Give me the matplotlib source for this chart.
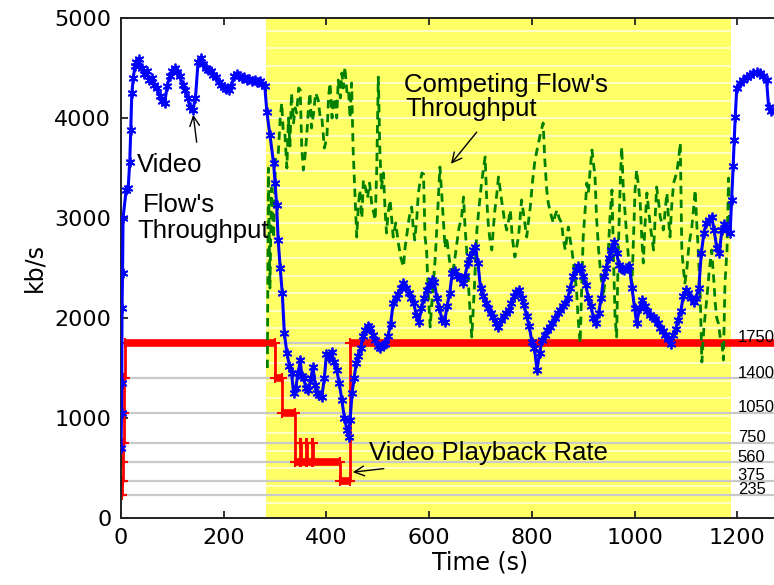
import numpy as np
import matplotlib
matplotlib.use("Agg")
import matplotlib.pyplot as plt

# ---------------------------------------------------------------------------
# Data
# ---------------------------------------------------------------------------
# Video flow throughput (kb/s)
video_t = [0, 1, 1.5, 2, 3, 4, 10, 14, 17, 19, 21, 24, 27,
           30, 35, 40, 45, 50, 55, 60, 65, 70, 75, 80, 85, 90, 95, 100, 105,
           110, 115, 120, 125, 130, 135, 140, 145, 150, 155, 160, 165, 170,
           175, 180, 185, 190, 195, 200, 205, 210, 215, 220, 225, 230, 235,
           240, 245, 250, 255, 260, 265, 270, 275, 280, 284, 290, 297, 300,
           303, 306, 310, 314, 318, 323, 328, 332, 336, 340, 345, 349, 352,
           356, 360, 365, 370, 374, 378, 382, 386, 391, 396, 400, 405, 410,
           415, 420, 425, 430, 435, 440, 443, 446, 450, 454, 458, 462, 467,
           471, 475, 480, 485, 490, 495, 500, 505, 510, 515, 520, 525, 530,
           535, 540, 545, 550, 555, 560, 565, 570, 575, 580, 585, 590, 595,
           600, 605, 610, 615, 620, 625, 630, 635, 640, 645, 650, 655, 660,
           665, 670, 675, 680, 685, 690, 695, 700, 705, 710, 715, 720, 725,
           730, 735, 740, 745, 750, 755, 760, 765, 770, 775, 780, 785, 790,
           795, 800, 805, 810, 815, 820, 825, 830, 835, 840, 845, 850, 855,
           860, 865, 870, 875, 880, 885, 890, 895, 900, 905, 910, 915, 920,
           925, 930, 935, 940, 945, 950, 955, 960, 965, 970, 975, 980, 985,
           990, 995, 1000, 1004, 1010, 1015, 1020, 1025, 1030, 1035, 1040,
           1045, 1050, 1055, 1060, 1065, 1070, 1075, 1080, 1085, 1090, 1095,
           1100, 1105, 1110, 1115, 1120, 1125, 1130, 1135, 1140, 1145, 1150,
           1155, 1160, 1165, 1170, 1175, 1180, 1186, 1189, 1192, 1194, 1196,
           1199, 1205, 1212, 1218, 1225, 1231, 1238, 1244, 1250, 1257, 1261,
           1265, 1272]
video_kbps = [700, 1050, 1350, 2100, 2450, 3000, 3280, 3300, 3560, 3880, 4250,
              4400, 4520,
              4560, 4590, 4500, 4440, 4470, 4380, 4400, 4330, 4300, 4220, 4170,
              4150, 4320, 4420, 4470, 4500, 4460, 4420, 4330, 4280, 4200, 4110,
              4080, 4200, 4560, 4600, 4540, 4500, 4480, 4470, 4430, 4410, 4360,
              4330, 4310, 4290, 4280, 4320, 4420, 4440, 4420, 4400, 4410, 4380,
              4390, 4370, 4380, 4360, 4370, 4340, 4320, 4060, 3830, 3550, 3350,
              3130, 2780, 2500, 2250, 1850, 1650, 1520, 1450, 1250, 1300, 1450,
              1580, 1420, 1400, 1300, 1280, 1400, 1510, 1330, 1250, 1230, 1210,
              1400, 1640, 1600, 1660, 1560, 1480, 1350, 1180, 1000, 880, 810,
              980, 1250, 1400, 1550, 1620, 1700, 1820, 1880, 1920, 1900, 1830,
              1780, 1720, 1700, 1730, 1740, 1820, 1940, 2150, 2200, 2240, 2300,
              2350, 2300, 2250, 2200, 2150, 2030, 1960, 2100, 2200, 2280, 2330,
              2380, 2360, 2200, 2100, 1980, 1960, 2120, 2250, 2450, 2470, 2420,
              2400, 2350, 2420, 2550, 2620, 2680, 2710, 2550, 2300, 2220, 2150,
              2100, 2050, 2010, 1950, 1910, 1980, 2020, 2050, 2080, 2150, 2220,
              2260, 2280, 2200, 2130, 2020, 1920, 1760, 1700, 1480, 1650, 1780,
              1830, 1880, 1910, 1950, 2000, 2050, 2080, 2120, 2150, 2200, 2300,
              2420, 2480, 2520, 2500, 2420, 2330, 2200, 2120, 2000, 1950, 2050,
              2200, 2420, 2500, 2600, 2680, 2760, 2650, 2530, 2490, 2480, 2500,
              2520, 2300, 2100, 1950, 2100, 2180, 2120, 2070, 2030, 2010, 1990,
              1950, 1900, 1870, 1830, 1790, 1740, 1830, 1890, 1980, 2070, 2220,
              2280, 2250, 2200, 2160, 2200, 2300, 2650, 2850, 2950, 2980, 3010,
              2880, 2700, 2650, 2880, 2940, 2900, 2850, 3180, 3520, 3780, 4010,
              4300, 4350, 4380, 4410, 4430, 4450, 4460, 4450, 4420, 4380, 4110,
              4070, 4080]

# Competing flow throughput (kb/s)
compete_t = [285, 287, 290, 293, 297, 301, 306, 310, 313, 316, 319, 323, 326,
             329, 332, 336, 339, 342, 346, 349, 352, 355, 358, 362, 365, 368,
             371, 375, 379, 384, 388, 391, 396, 401, 404, 407, 411, 414, 417,
             420, 423, 427, 430, 433, 436, 440, 443, 446, 449, 452, 456, 459,
             462, 465, 469, 472, 476, 480, 484, 488, 491, 495, 498, 501, 504,
             507, 511, 514, 517, 520, 524, 527, 530, 535, 540, 545, 550, 553,
             556, 561, 566, 569, 572, 576, 579, 582, 586, 589, 592, 595, 598,
             602, 606, 609, 612, 616, 621, 625, 628, 631, 634, 639, 644, 649,
             654, 658, 663, 667, 670, 673, 678, 683, 688, 693, 697, 702, 706,
             709, 712, 715, 718, 722, 725, 728, 732, 735, 738, 741, 746, 751,
             754, 758, 762, 767, 770, 774, 777, 780, 785, 790, 793, 797, 801,
             806, 810, 813, 817, 822, 825, 829, 832, 835, 839, 842, 845, 849,
             853, 858, 861, 865, 868, 871, 874, 878, 882, 887, 890, 894, 897,
             900, 904, 907, 910, 913, 917, 920, 923, 926, 930, 934, 939, 944,
             949, 952, 956, 959, 962, 965, 968, 972, 975, 978, 982, 985, 988,
             991, 995, 998, 1001, 1004, 1008, 1011, 1014, 1017, 1020, 1024,
             1027, 1030, 1034, 1037, 1040, 1043, 1047, 1050, 1053, 1056, 1060,
             1063, 1066, 1069, 1072, 1076, 1079, 1082, 1086, 1089, 1092, 1095,
             1098, 1102, 1105, 1108, 1111, 1115, 1118, 1121, 1124, 1128, 1131,
             1135, 1141, 1145, 1150, 1154, 1157, 1160, 1163, 1167, 1170, 1173,
             1176, 1180, 1183, 1185]
compete_kbps = [1500, 3500, 2300, 3300, 2800, 3600, 3620, 4000, 4150, 3850,
                3850, 3500, 4000, 3720, 4250, 3950, 4100, 4050, 4300, 4280,
                3700, 3480, 3600, 3850, 4100, 4250, 3900, 4050, 4250, 4180,
                4000, 4010, 3700, 3810, 4200, 4350, 4000, 4200, 4180, 4000,
                4380, 4200, 4450, 4300, 4510, 4250, 4280, 4000, 4350, 3680,
                3180, 2810, 3100, 3280, 3000, 3380, 3300, 3200, 3350, 3150,
                3080, 2980, 3500, 4410, 3680, 3300, 3450, 3100, 2850, 3050,
                3180, 3000, 2810, 2950, 2750, 2600, 2510, 2700, 2810, 3000,
                3110, 2900, 2780, 3000, 3250, 3350, 3450, 3440, 2810, 2680,
                2280, 1910, 2200, 2400, 2610, 3000, 3510, 3200, 2950, 2700,
                2810, 2600, 2410, 2550, 2750, 2900, 3000, 3210, 2900, 2680,
                2200, 1810, 2300, 2880, 3100, 3350, 3500, 3610, 3200, 2950,
                2800, 2680, 2900, 3080, 3250, 3410, 3300, 3180, 3000, 2880,
                2950, 3080, 2800, 2610, 2700, 2810, 3000, 3180, 3000, 2810,
                2950, 3110, 3350, 3580, 3680, 3750, 3850, 3950, 3600, 3280,
                3150, 3080, 3000, 2950, 3020, 3080, 3000, 2950, 2800, 2680,
                2800, 2910, 2800, 2680, 2500, 2280, 2000, 1750, 2300, 2810,
                3100, 3350, 3250, 3450, 3680, 3550, 3410, 3000, 2680, 2450,
                2210, 2450, 2680, 3000, 3280, 2600, 2010, 1810, 2600, 3350,
                3710, 3300, 3010, 2800, 2610, 2450, 2350, 2800, 3280, 3480,
                3300, 3150, 2800, 2550, 2900, 3250, 3100, 2950, 2800, 2680,
                3000, 3310, 3150, 3010, 2950, 2880, 3100, 3250, 3000, 2810,
                3100, 3350, 3400, 3450, 3600, 3750, 2680, 2500, 2350, 2500,
                2680, 2800, 2880, 3100, 3280, 2950, 2680, 2200, 1560, 1900,
                2210, 2450, 2680, 2400, 2150, 2000, 1950, 1800, 1750, 1580,
                2350, 2680, 3400, 2900]

# Playback rate: each rate holds from its switch time to the next one
rate_t = [0, 2, 3, 4, 5, 6, 8, 300, 314, 339, 348, 350, 361, 363, 372, 374,
          427, 446, 1400]
rate_kbps = [235, 375, 560, 750, 1050, 1400, 1750, 1400, 1050, 560, 750, 560,
             750, 560, 750, 560, 375, 1750, 1750]

# Encoding ladder of the video service (kb/s)
ladder_kbps = [235, 375, 560, 750, 1050, 1400, 1750]
ladder_text = ["235", "375", "560", "750", "1050", "1400", "1750"]

# Period during which the competing flow is active (s)
compete_start, compete_end = 282, 1188

# ---------------------------------------------------------------------------
# Figure
# ---------------------------------------------------------------------------
plt.rcParams["font.family"] = "DejaVu Sans"
ann_font = "Liberation Sans"

fig = plt.figure(figsize=(7.74, 5.85), dpi=100)
ax = fig.add_axes([121 / 774, 67 / 585, 719 / 774, 500 / 585])

# shaded period of the competing flow, with its faint horizontal banding
ax.axvspan(compete_start, compete_end, color="#ffff66", zorder=0, lw=0)
ax.hlines(np.arange(150, 4900, 175), compete_start, compete_end,
          color="white", lw=1.2, alpha=0.75, zorder=0.5)

# encoding ladder reference lines and labels
ax.hlines(ladder_kbps, 0, 1400, color="#c9c9c9", lw=1.6, zorder=1)
for v, s in zip(ladder_kbps, ladder_text):
    ax.text(1201, v + 50, s, family=ann_font, fontsize=12, va="center",
            ha="left", color="black", zorder=6)

# playback rate
seg_start = rate_t[:-1]
seg_end = rate_t[1:]
seg_level = rate_kbps[:-1]
ax.hlines(seg_level, seg_start, seg_end, color="red", lw=5.5, zorder=2)
ax.step(rate_t, rate_kbps, where="post", color="red", lw=2, zorder=2)
ax.plot(rate_t[:-1], rate_kbps[:-1], ls="none", marker="+", ms=7, mew=1.5,
        color="red", zorder=2)
ax.plot(seg_end[:-1], seg_level[:-1], ls="none", marker="+", ms=7, mew=1.5,
        color="red", zorder=2)

# competing flow
ax.plot(compete_t, compete_kbps, color="#008000", lw=2, ls=(0, (3, 2)),
        zorder=3)

# video flow
ax.plot(video_t, video_kbps, color="blue", lw=2.2, marker=(6, 2, 0), ms=7,
        mew=1.3, zorder=4)

# annotations
ax.text(31, 3460, "Video", family=ann_font, fontsize=18.5, va="baseline")
ax.text(43, 3060, "Flow's", family=ann_font, fontsize=18.5, va="baseline")
ax.text(31, 2800, "Throughput", family=ann_font, fontsize=18.5,
        va="baseline")
ax.annotate("", xy=(140, 4060), xytext=(148, 3730),
            arrowprops=dict(arrowstyle="->,head_length=0.5,head_width=0.25",
                            lw=1, color="black", mutation_scale=14))

ax.text(551, 4260, "Competing Flow's", family=ann_font, fontsize=18.5,
        va="baseline")
ax.text(553, 4020, "Throughput", family=ann_font, fontsize=18.5,
        va="baseline")
ax.annotate("", xy=(639, 3520), xytext=(696, 3880),
            arrowprops=dict(arrowstyle="->,head_length=0.5,head_width=0.25",
                            lw=1, color="black", mutation_scale=14))

ax.text(482, 580, "Video Playback Rate", family=ann_font, fontsize=18.5,
        va="baseline")
ax.annotate("", xy=(446, 455), xytext=(517, 497),
            arrowprops=dict(arrowstyle="->,head_length=0.5,head_width=0.25",
                            lw=1, color="black", mutation_scale=14))

# axes
ax.set_xlim(0, 1400)
ax.set_ylim(0, 5000)
ax.set_xticks(np.arange(0, 1201, 200))
ax.set_yticks(np.arange(0, 5001, 1000))
ax.tick_params(direction="in", length=5, width=1.3, labelsize=16, pad=7,
               top=True, right=True, color="#222222")
for sp in ax.spines.values():
    sp.set_linewidth(1.4)
    sp.set_color("#222222")
ax.set_xlabel("Time (s)", fontsize=17, labelpad=2)
ax.set_ylabel("kb/s", fontsize=17, labelpad=6)

fig.savefig("out.png", dpi=100)
